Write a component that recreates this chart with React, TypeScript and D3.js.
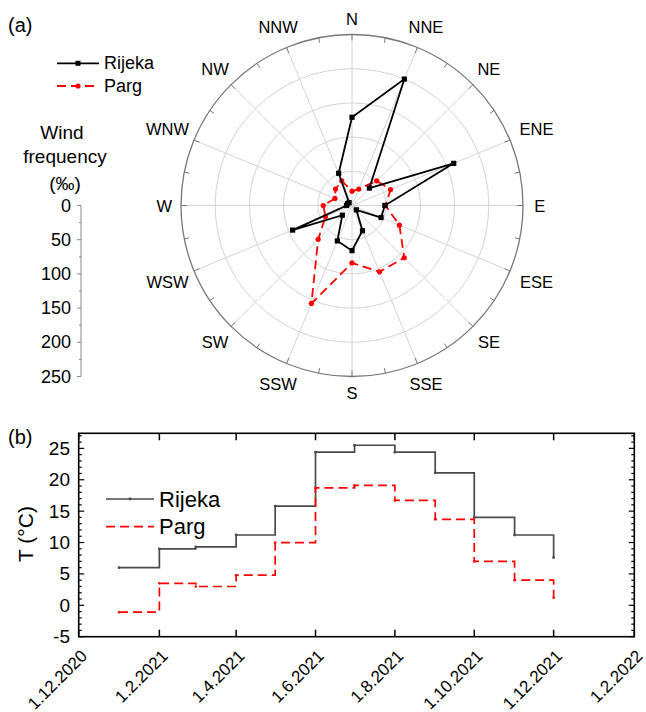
import React from 'react';
import * as d3 from 'd3';

// (a) wind rose, frequency in per mille
const directions = ['N', 'NNE', 'NE', 'ENE', 'E', 'ESE', 'SE', 'SSE', 'S', 'SSW', 'SW', 'WSW', 'W', 'WNW', 'NW', 'NNW'];
const rijekaWind = [129, 200, 36, 161, 48, 46, 9, 40, 66, 56, 20, 94, 8, 7, 6, 51];
const pargWind = [21, 26, 51, 61, 49, 75, 108, 105, 84, 155, 70, 42, 42, 27, 34, 39];
const windTicks = [0, 50, 100, 150, 200, 250];

// (b) monthly mean temperature
const months = ['1.1.2021', '1.2.2021', '1.3.2021', '1.4.2021', '1.5.2021', '1.6.2021',
  '1.7.2021', '1.8.2021', '1.9.2021', '1.10.2021', '1.11.2021', '1.12.2021'];
const rijekaTemp = [6.0, 9.0, 9.3, 11.2, 15.8, 24.4, 25.5, 24.4, 21.1, 14.0, 11.2, 7.6];
const pargTemp = [-1.1, 3.5, 3.0, 4.8, 10.0, 18.7, 19.1, 16.7, 13.7, 7.0, 4.0, 1.2];
const dateTicks = ['1.12.2020', '1.2.2021', '1.4.2021', '1.6.2021', '1.8.2021', '1.10.2021', '1.12.2021', '1.2.2022'];
const tempTicks = [-5, 0, 5, 10, 15, 20, 25];

const FONT = '"Liberation Sans", Arial, sans-serif';
const parse = d3.timeParse('%d.%m.%Y');

export default function App() {
  // polar part
  const cx = 352;
  const cy = 205.5;
  const r = d3.scaleLinear().domain([0, 250]).range([0, 171]);
  const ang = d3.scaleLinear().domain([0, directions.length]).range([0, 2 * Math.PI]);
  const radial = d3.lineRadial<number>()
    .angle((_, i) => ang(i))
    .radius(d => r(d))
    .curve(d3.curveLinearClosed);
  const yW = d3.scaleLinear().domain([0, 250]).range([cy, cy + r(250)]);

  // temperature part
  const x = d3.scaleTime()
    .domain([parse('1.12.2020')!, parse('1.2.2022')!])
    .range([78.7, 634.3]);
  const y = d3.scaleLinear().domain([-5, 27.4]).range([636.7, 433.3]);
  const step = d3.line<[Date, number]>()
    .x(d => x(d[0]))
    .y(d => y(d[1]))
    .curve(d3.curveStepAfter);
  const dates = months.map(m => parse(m)!);
  const rijekaPts: [Date, number][] = dates.map((d, i) => [d, rijekaTemp[i]]);
  const pargPts: [Date, number][] = dates.map((d, i) => [d, pargTemp[i]]);
  const [x0, x1] = x.range();
  const [yb, yt] = y.range();

  return (
    <svg width={646} height={712} style={{ position: 'absolute', left: 0, top: 0, background: '#fff' }}
      fontFamily={FONT}>
      <text x={8} y={32} fontSize={20}>(a)</text>

      {/* legend (a) */}
      <line x1={57} x2={99} y1={63.3} y2={63.3} stroke="#000" strokeWidth={1.8} />
      <rect x={75.5} y={60.8} width={5} height={5} fill="#000" />
      <text x={104} y={63.3} fontSize={18} dominantBaseline="central">Rijeka</text>
      <line x1={57} x2={99} y1={86} y2={86} stroke="#f00" strokeWidth={1.8} strokeDasharray="9,5" />
      <circle cx={78} cy={86} r={2.6} fill="#f00" />
      <text x={104} y={86} fontSize={18} dominantBaseline="central">Parg</text>

      {/* radial axis on the left */}
      <g fontSize={19} textAnchor="middle">
        <text x={62} y={139}>Wind</text>
        <text x={65} y={163}>frequency</text>
        <text x={65} y={190}>(‰)</text>
      </g>
      <line x1={81} x2={81} y1={yW(0)} y2={yW(250)} stroke="#888" strokeWidth={1} />
      {d3.range(0, 251, 25).map(v => (
        <line key={v} x1={v % 50 === 0 ? 77 : 79} x2={81} y1={yW(v)} y2={yW(v)} stroke="#888" strokeWidth={1} />
      ))}
      {windTicks.map(v => (
        <text key={v} x={71} y={yW(v)} fontSize={18} textAnchor="end" dominantBaseline="central">{v}</text>
      ))}

      {/* polar grid */}
      <g transform={`translate(${cx},${cy})`}>
        {windTicks.slice(1, -1).map(v => (
          <circle key={v} r={r(v)} fill="none" stroke="#d4d4d4" strokeWidth={1} />
        ))}
        {directions.map((_, i) => {
          const [px, py] = d3.pointRadial(ang(i), r(250));
          return <line key={i} x1={0} y1={0} x2={px} y2={py} stroke="#d4d4d4" strokeWidth={1} />;
        })}
        <circle r={r(250)} fill="none" stroke="#777" strokeWidth={1.3} />
        {d3.range(0, 32).map(i => {
          const a = (i * Math.PI) / 16;
          const [ax, ay] = d3.pointRadial(a, r(250));
          const [bx, by] = d3.pointRadial(a, r(250) - (i % 2 === 0 ? 6 : 5));
          return <line key={i} x1={ax} y1={ay} x2={bx} y2={by} stroke="#777" strokeWidth={1} />;
        })}
        {directions.map((d, i) => {
          const a = ang(i);
          const rr = 182 + 5 * Math.abs(Math.cos(a)) + d.length * 5.7 * Math.abs(Math.sin(a));
          const [lx, ly] = d3.pointRadial(a, rr);
          return (
            <text key={d} x={lx} y={ly} fontSize={16.5} textAnchor="middle" dominantBaseline="central">{d}</text>
          );
        })}

        <path d={radial(pargWind) || ''} fill="none" stroke="#f00" strokeWidth={1.8} strokeDasharray="9,5" />
        {pargWind.map((v, i) => {
          const [px, py] = d3.pointRadial(ang(i), r(v));
          return <circle key={i} cx={px} cy={py} r={2.6} fill="#f00" />;
        })}
        <path d={radial(rijekaWind) || ''} fill="none" stroke="#000" strokeWidth={1.8} />
        {rijekaWind.map((v, i) => {
          const [px, py] = d3.pointRadial(ang(i), r(v));
          return <rect key={i} x={px - 2.6} y={py - 2.6} width={5.2} height={5.2} fill="#000" />;
        })}
      </g>

      {/* (b) temperature */}
      <text x={8} y={444} fontSize={20}>(b)</text>
      <text transform={`translate(33,534) rotate(-90)`} fontSize={21} textAnchor="middle">T (°C)</text>

      <path d={step(rijekaPts) || ''} fill="none" stroke="#4a4a4a" strokeWidth={1.7} />
      {rijekaPts.map((p, i) => (
        <circle key={i} cx={x(p[0])} cy={y(p[1])} r={1.4} fill="#4a4a4a" />
      ))}
      <path d={step(pargPts) || ''} fill="none" stroke="#f00" strokeWidth={1.7} strokeDasharray="9,5" />
      {pargPts.map((p, i) => (
        <circle key={i} cx={x(p[0])} cy={y(p[1])} r={1.3} fill="#f00" />
      ))}

      {/* legend (b) */}
      <line x1={106} x2={154} y1={499} y2={499} stroke="#4a4a4a" strokeWidth={1.7} />
      <circle cx={130} cy={499} r={1.4} fill="#4a4a4a" />
      <text x={159} y={499} fontSize={22} dominantBaseline="central">Rijeka</text>
      <line x1={106} x2={154} y1={526.7} y2={526.7} stroke="#f00" strokeWidth={1.7} strokeDasharray="9,5" />
      <text x={159} y={526.7} fontSize={22} dominantBaseline="central">Parg</text>

      {/* frame and ticks */}
      {d3.range(-5, 28, 1).map(v => {
        const len = v % 5 === 0 ? 5.5 : 3;
        return (
          <g key={v}>
            <line x1={x0} x2={x0 + len} y1={y(v)} y2={y(v)} stroke="#000" strokeWidth={1.2} />
            <line x1={x1} x2={x1 - len} y1={y(v)} y2={y(v)} stroke="#000" strokeWidth={1.2} />
          </g>
        );
      })}
      {tempTicks.map(v => (
        <text key={v} x={70} y={y(v)} fontSize={19} textAnchor="end" dominantBaseline="central">{v}</text>
      ))}
      {dateTicks.map(t => {
        const tx = x(parse(t)!);
        return (
          <g key={t}>
            <line x1={tx} x2={tx} y1={yb} y2={yb - 7} stroke="#000" strokeWidth={1.5} />
            <line x1={tx} x2={tx} y1={yt} y2={yt + 7} stroke="#000" strokeWidth={1.5} />
            <text transform={`translate(${tx + 9.5},657) rotate(-45)`} fontSize={17} textAnchor="end">{t}</text>
          </g>
        );
      })}
      <rect x={x0} y={yt} width={x1 - x0} height={yb - yt} fill="none" stroke="#000" strokeWidth={1.6} />
    </svg>
  );
}
